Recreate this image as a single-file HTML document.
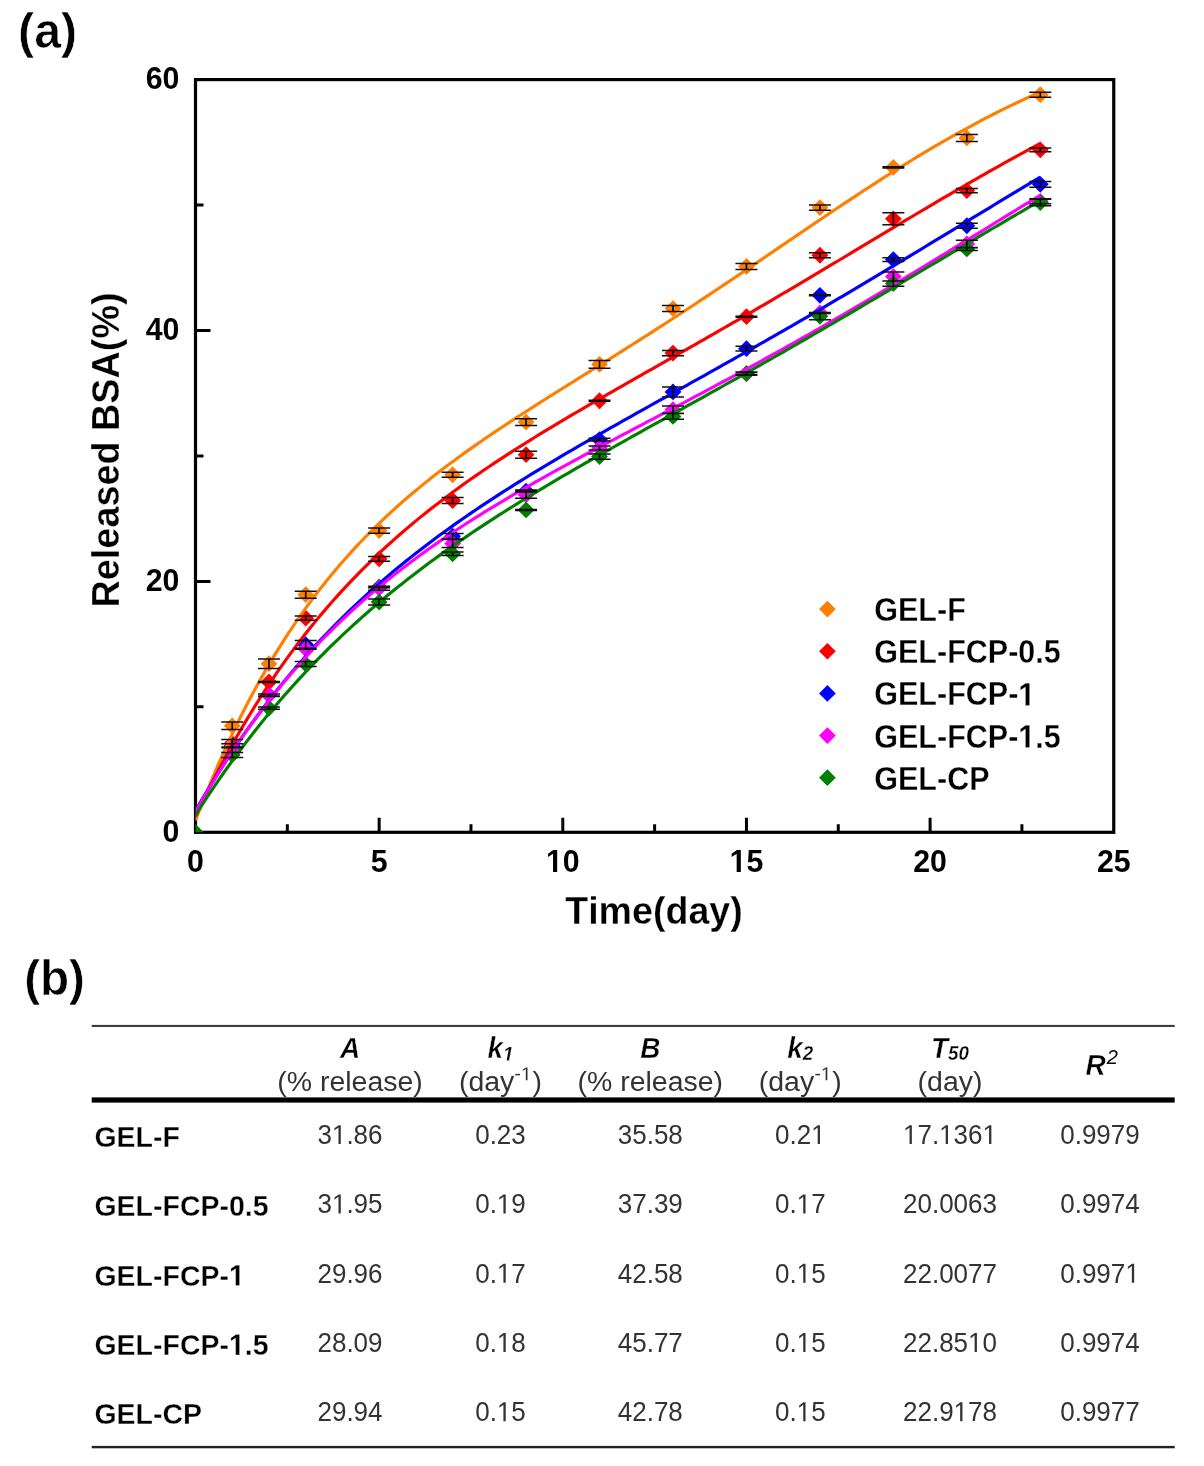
<!DOCTYPE html><html><head><meta charset="utf-8"><style>html,body{margin:0;padding:0;background:#fff;overflow:hidden;width:1204px;height:1466px;}svg{display:block;will-change:transform;}text{font-family:"Liberation Sans", sans-serif;}</style></head><body>
<svg width="1204" height="1466" viewBox="0 0 1204 1466">
<rect width="1204" height="1466" fill="#fff"/>
<g transform="translate(18.10 47.80) scale(1.0000 1.0300)"><text x="0.00 16.08 42.95" y="0.00" font-size="48.30" font-weight="bold" fill="#000" stroke="#fff" stroke-width="0.60">(a)</text></g>
<rect x="195.50" y="79.60" width="918.25" height="752.70" fill="none" stroke="#000" stroke-width="3.2"/>
<path fill="none" stroke="#000" stroke-width="3" d="M195.50 581.40H210.50M195.50 330.50H210.50M195.50 706.85H203.50M195.50 455.95H203.50M195.50 205.05H203.50M379.15 832.30V817.80M562.80 832.30V817.80M746.45 832.30V817.80M930.10 832.30V817.80M287.32 832.30V824.30M470.97 832.30V824.30M654.62 832.30V824.30M838.27 832.30V824.30M1021.92 832.30V824.30"/>
<defs><clipPath id="pc"><rect x="195.50" y="79.60" width="918.25" height="752.70"/></clipPath></defs>
<g clip-path="url(#pc)">
<path fill="#ff8000" d="M232.23 717.39L240.63 725.79L232.23 734.19L223.83 725.79ZM268.96 655.30L277.36 663.70L268.96 672.10L260.56 663.70ZM305.69 586.30L314.09 594.70L305.69 603.10L297.29 594.70ZM379.15 522.19L387.55 530.59L379.15 538.99L370.75 530.59ZM452.61 466.37L461.01 474.77L452.61 483.17L444.21 474.77ZM526.07 413.68L534.47 422.08L526.07 430.48L517.67 422.08ZM599.53 355.97L607.93 364.37L599.53 372.77L591.13 364.37ZM672.99 300.15L681.39 308.55L672.99 316.95L664.59 308.55ZM746.45 258.12L754.85 266.52L746.45 274.92L738.05 266.52ZM819.91 199.16L828.31 207.56L819.91 215.96L811.51 207.56ZM893.37 159.01L901.77 167.41L893.37 175.81L884.97 167.41ZM966.83 129.53L975.23 137.93L966.83 146.33L958.43 137.93ZM1040.29 86.25L1048.69 94.65L1040.29 103.05L1031.89 94.65Z"/>
<path fill="#ff0000" d="M232.23 734.96L240.63 743.36L232.23 751.76L223.83 743.36ZM268.96 673.61L277.36 682.01L268.96 690.41L260.56 682.01ZM305.69 609.76L314.09 618.16L305.69 626.56L297.29 618.16ZM379.15 550.42L387.55 558.82L379.15 567.22L370.75 558.82ZM452.61 492.08L461.01 500.48L452.61 508.88L444.21 500.48ZM526.07 446.30L534.47 454.70L526.07 463.10L517.67 454.70ZM599.53 392.35L607.93 400.75L599.53 409.15L591.13 400.75ZM672.99 344.68L681.39 353.08L672.99 361.48L664.59 353.08ZM746.45 308.30L754.85 316.70L746.45 325.10L738.05 316.70ZM819.91 246.83L828.31 255.23L819.91 263.63L811.51 255.23ZM893.37 210.45L901.77 218.85L893.37 227.25L884.97 218.85ZM966.83 182.22L975.23 190.62L966.83 199.02L958.43 190.62ZM1040.29 141.45L1048.69 149.85L1040.29 158.25L1031.89 149.85Z"/>
<path fill="#0000ff" d="M232.23 737.34L240.63 745.74L232.23 754.14L223.83 745.74ZM268.96 686.53L277.36 694.93L268.96 703.33L260.56 694.93ZM305.69 636.35L314.09 644.75L305.69 653.15L297.29 644.75ZM379.15 578.65L387.55 587.05L379.15 595.45L370.75 587.05ZM452.61 527.84L461.01 536.24L452.61 544.64L444.21 536.24ZM526.07 482.68L534.47 491.08L526.07 499.48L517.67 491.08ZM599.53 431.24L607.93 439.64L599.53 448.04L591.13 439.64ZM672.99 383.57L681.39 391.97L672.99 400.37L664.59 391.97ZM746.45 340.29L754.85 348.69L746.45 357.09L738.05 348.69ZM819.91 286.97L828.31 295.37L819.91 303.77L811.51 295.37ZM893.37 251.22L901.77 259.62L893.37 268.02L884.97 259.62ZM966.83 217.35L975.23 225.75L966.83 234.15L958.43 225.75ZM1040.29 175.95L1048.69 184.35L1040.29 192.75L1031.89 184.35Z"/>
<path fill="#ff00ff" d="M232.23 739.72L240.63 748.12L232.23 756.52L223.83 748.12ZM268.96 686.78L277.36 695.18L268.96 703.58L260.56 695.18ZM305.69 640.37L314.09 648.77L305.69 657.17L297.29 648.77ZM379.15 579.77L387.55 588.17L379.15 596.57L370.75 588.17ZM452.61 535.11L461.01 543.51L452.61 551.91L444.21 543.51ZM526.07 486.44L534.47 494.84L526.07 503.24L517.67 494.84ZM599.53 439.65L607.93 448.05L599.53 456.45L591.13 448.05ZM672.99 401.13L681.39 409.53L672.99 417.93L664.59 409.53ZM746.45 365.38L754.85 373.78L746.45 382.18L738.05 373.78ZM819.91 304.54L828.31 312.94L819.91 321.34L811.51 312.94ZM893.37 268.16L901.77 276.56L893.37 284.96L884.97 276.56ZM966.83 235.54L975.23 243.94L966.83 252.34L958.43 243.94ZM1040.29 192.89L1048.69 201.29L1040.29 209.69L1031.89 201.29Z"/>
<path fill="#008000" d="M195.50 823.90L203.90 832.30L195.50 840.70L187.10 832.30ZM232.23 746.50L240.63 754.90L232.23 763.30L223.83 754.90ZM268.96 699.70L277.36 708.10L268.96 716.50L260.56 708.10ZM305.69 655.67L314.09 664.07L305.69 672.47L297.29 664.07ZM379.15 593.70L387.55 602.10L379.15 610.50L370.75 602.10ZM452.61 545.40L461.01 553.80L452.61 562.20L444.21 553.80ZM526.07 501.49L534.47 509.89L526.07 518.29L517.67 509.89ZM599.53 448.18L607.93 456.58L599.53 464.98L591.13 456.58ZM672.99 408.03L681.39 416.43L672.99 424.83L664.59 416.43ZM746.45 365.00L754.85 373.40L746.45 381.80L738.05 373.40ZM819.91 307.92L828.31 316.32L819.91 324.72L811.51 316.32ZM893.37 275.18L901.77 283.58L893.37 291.98L884.97 283.58ZM966.83 240.56L975.23 248.96L966.83 257.36L958.43 248.96ZM1040.29 194.14L1048.69 202.54L1040.29 210.94L1031.89 202.54Z"/>
<path fill="none" stroke="#ff8000" stroke-width="3.15" stroke-linejoin="round" d="M195.50 820.42L200.09 808.55L204.68 797.01L209.27 785.78L213.87 774.86L218.46 764.24L223.05 753.90L227.64 743.85L232.23 734.06L236.82 724.54L241.41 715.27L246.00 706.25L250.59 697.46L255.19 688.91L259.78 680.58L264.37 672.47L268.96 664.57L273.55 656.88L278.14 649.38L282.73 642.07L287.32 634.95L291.92 628.00L296.51 621.23L301.10 614.63L305.69 608.19L310.28 601.91L314.87 595.78L319.46 589.80L324.05 583.95L328.65 578.25L333.24 572.68L337.83 567.23L342.42 561.91L347.01 556.71L351.60 551.63L356.19 546.65L360.78 541.79L365.38 537.02L369.97 532.36L374.56 527.79L379.15 523.31L383.74 518.92L388.33 514.62L392.92 510.40L397.51 506.26L402.11 502.19L406.70 498.20L411.29 494.27L415.88 490.42L420.47 486.62L425.06 482.89L429.65 479.22L434.25 475.60L438.84 472.04L443.43 468.52L448.02 465.06L452.61 461.64L457.20 458.27L461.79 454.93L466.38 451.64L470.97 448.38L475.57 445.16L480.16 441.97L484.75 438.81L489.34 435.68L493.93 432.58L498.52 429.51L503.11 426.45L507.70 423.42L512.30 420.41L516.89 417.42L521.48 414.45L526.07 411.49L530.66 408.55L535.25 405.62L539.84 402.70L544.43 399.79L549.03 396.89L553.62 394.00L558.21 391.11L562.80 388.23L567.39 385.35L571.98 382.48L576.57 379.61L581.16 376.74L585.76 373.87L590.35 371.00L594.94 368.13L599.53 365.25L604.12 362.38L608.71 359.50L613.30 356.61L617.89 353.72L622.49 350.83L627.08 347.93L631.67 345.02L636.26 342.11L640.85 339.18L645.44 336.25L650.03 333.32L654.62 330.37L659.22 327.42L663.81 324.46L668.40 321.48L672.99 318.50L677.58 315.51L682.17 312.52L686.76 309.51L691.36 306.49L695.95 303.47L700.54 300.43L705.13 297.39L709.72 294.34L714.31 291.28L718.90 288.22L723.49 285.15L728.08 282.07L732.68 278.98L737.27 275.89L741.86 272.79L746.45 269.68L751.04 266.58L755.63 263.46L760.22 260.35L764.81 257.23L769.41 254.11L774.00 250.98L778.59 247.86L783.18 244.73L787.77 241.61L792.36 238.49L796.95 235.36L801.54 232.25L806.14 229.13L810.73 226.02L815.32 222.91L819.91 219.81L824.50 216.72L829.09 213.63L833.68 210.55L838.27 207.48L842.87 204.42L847.46 201.37L852.05 198.33L856.64 195.31L861.23 192.29L865.82 189.30L870.41 186.31L875.00 183.34L879.60 180.39L884.19 177.45L888.78 174.54L893.37 171.64L897.96 168.76L902.55 165.90L907.14 163.05L911.73 160.24L916.33 157.44L920.92 154.66L925.51 151.91L930.10 149.18L934.69 146.48L939.28 143.80L943.87 141.15L948.46 138.52L953.06 135.92L957.65 133.34L962.24 130.80L966.83 128.28L971.42 125.79L976.01 123.32L980.60 120.89L985.19 118.48L989.79 116.10L994.38 113.76L998.97 111.44L1003.56 109.15L1008.15 106.89L1012.74 104.66L1017.33 102.47L1021.92 100.30L1026.52 98.16L1031.11 96.06L1035.70 93.98L1040.29 91.94"/>
<path fill="none" stroke="#ff0000" stroke-width="3.15" stroke-linejoin="round" d="M195.50 816.58L200.09 806.87L204.68 797.37L209.27 788.09L213.87 779.01L218.46 770.14L223.05 761.46L227.64 752.97L232.23 744.67L236.82 736.55L241.41 728.60L246.00 720.83L250.59 713.23L255.19 705.78L259.78 698.50L264.37 691.37L268.96 684.40L273.55 677.57L278.14 670.88L282.73 664.34L287.32 657.93L291.92 651.65L296.51 645.50L301.10 639.47L305.69 633.57L310.28 627.79L314.87 622.12L319.46 616.56L324.05 611.12L328.65 605.77L333.24 600.54L337.83 595.40L342.42 590.36L347.01 585.41L351.60 580.56L356.19 575.79L360.78 571.12L365.38 566.52L369.97 562.01L374.56 557.58L379.15 553.22L383.74 548.94L388.33 544.74L392.92 540.60L397.51 536.53L402.11 532.52L406.70 528.58L411.29 524.71L415.88 520.89L420.47 517.13L425.06 513.42L429.65 509.77L434.25 506.18L438.84 502.63L443.43 499.13L448.02 495.68L452.61 492.27L457.20 488.91L461.79 485.59L466.38 482.31L470.97 479.07L475.57 475.87L480.16 472.70L484.75 469.57L489.34 466.47L493.93 463.40L498.52 460.37L503.11 457.36L507.70 454.38L512.30 451.43L516.89 448.50L521.48 445.60L526.07 442.72L530.66 439.86L535.25 437.02L539.84 434.21L544.43 431.41L549.03 428.63L553.62 425.86L558.21 423.11L562.80 420.38L567.39 417.66L571.98 414.95L576.57 412.26L581.16 409.57L585.76 406.90L590.35 404.23L594.94 401.58L599.53 398.93L604.12 396.29L608.71 393.66L613.30 391.03L617.89 388.40L622.49 385.79L627.08 383.17L631.67 380.56L636.26 377.95L640.85 375.34L645.44 372.74L650.03 370.13L654.62 367.53L659.22 364.92L663.81 362.32L668.40 359.71L672.99 357.10L677.58 354.50L682.17 351.88L686.76 349.27L691.36 346.66L695.95 344.04L700.54 341.42L705.13 338.79L709.72 336.16L714.31 333.53L718.90 330.89L723.49 328.25L728.08 325.60L732.68 322.95L737.27 320.30L741.86 317.64L746.45 314.97L751.04 312.30L755.63 309.63L760.22 306.95L764.81 304.27L769.41 301.58L774.00 298.88L778.59 296.18L783.18 293.48L787.77 290.77L792.36 288.06L796.95 285.34L801.54 282.62L806.14 279.90L810.73 277.17L815.32 274.43L819.91 271.70L824.50 268.96L829.09 266.22L833.68 263.47L838.27 260.73L842.87 257.98L847.46 255.23L852.05 252.47L856.64 249.72L861.23 246.97L865.82 244.21L870.41 241.46L875.00 238.70L879.60 235.95L884.19 233.20L888.78 230.45L893.37 227.70L897.96 224.95L902.55 222.21L907.14 219.47L911.73 216.73L916.33 214.00L920.92 211.27L925.51 208.55L930.10 205.83L934.69 203.12L939.28 200.41L943.87 197.71L948.46 195.02L953.06 192.33L957.65 189.66L962.24 186.99L966.83 184.33L971.42 181.68L976.01 179.04L980.60 176.42L985.19 173.80L989.79 171.19L994.38 168.60L998.97 166.01L1003.56 163.44L1008.15 160.88L1012.74 158.34L1017.33 155.81L1021.92 153.29L1026.52 150.79L1031.11 148.30L1035.70 145.83L1040.29 143.38"/>
<path fill="none" stroke="#0000ff" stroke-width="3.15" stroke-linejoin="round" d="M195.50 810.70L200.09 802.80L204.68 795.04L209.27 787.44L213.87 779.97L218.46 772.65L223.05 765.46L227.64 758.41L232.23 751.48L236.82 744.69L241.41 738.02L246.00 731.47L250.59 725.04L255.19 718.73L259.78 712.53L264.37 706.44L268.96 700.46L273.55 694.58L278.14 688.81L282.73 683.15L287.32 677.58L291.92 672.10L296.51 666.72L301.10 661.43L305.69 656.24L310.28 651.12L314.87 646.10L319.46 641.16L324.05 636.30L328.65 631.51L333.24 626.81L337.83 622.18L342.42 617.62L347.01 613.14L351.60 608.72L356.19 604.37L360.78 600.09L365.38 595.87L369.97 591.72L374.56 587.63L379.15 583.59L383.74 579.61L388.33 575.69L392.92 571.83L397.51 568.02L402.11 564.25L406.70 560.54L411.29 556.88L415.88 553.27L420.47 549.70L425.06 546.17L429.65 542.69L434.25 539.25L438.84 535.85L443.43 532.50L448.02 529.18L452.61 525.89L457.20 522.64L461.79 519.43L466.38 516.25L470.97 513.10L475.57 509.99L480.16 506.90L484.75 503.84L489.34 500.82L493.93 497.81L498.52 494.84L503.11 491.89L507.70 488.96L512.30 486.06L516.89 483.18L521.48 480.32L526.07 477.48L530.66 474.66L535.25 471.86L539.84 469.08L544.43 466.31L549.03 463.56L553.62 460.83L558.21 458.11L562.80 455.40L567.39 452.71L571.98 450.03L576.57 447.36L581.16 444.71L585.76 442.06L590.35 439.42L594.94 436.79L599.53 434.17L604.12 431.56L608.71 428.96L613.30 426.36L617.89 423.77L622.49 421.18L627.08 418.60L631.67 416.03L636.26 413.45L640.85 410.88L645.44 408.32L650.03 405.75L654.62 403.19L659.22 400.63L663.81 398.07L668.40 395.51L672.99 392.95L677.58 390.39L682.17 387.83L686.76 385.27L691.36 382.71L695.95 380.15L700.54 377.59L705.13 375.02L709.72 372.45L714.31 369.88L718.90 367.30L723.49 364.72L728.08 362.14L732.68 359.56L737.27 356.97L741.86 354.37L746.45 351.78L751.04 349.17L755.63 346.57L760.22 343.95L764.81 341.34L769.41 338.71L774.00 336.09L778.59 333.46L783.18 330.82L787.77 328.17L792.36 325.53L796.95 322.87L801.54 320.21L806.14 317.55L810.73 314.88L815.32 312.20L819.91 309.52L824.50 306.83L829.09 304.14L833.68 301.44L838.27 298.73L842.87 296.02L847.46 293.31L852.05 290.59L856.64 287.87L861.23 285.14L865.82 282.40L870.41 279.66L875.00 276.92L879.60 274.17L884.19 271.42L888.78 268.67L893.37 265.91L897.96 263.14L902.55 260.38L907.14 257.61L911.73 254.84L916.33 252.06L920.92 249.28L925.51 246.50L930.10 243.72L934.69 240.94L939.28 238.16L943.87 235.37L948.46 232.58L953.06 229.80L957.65 227.01L962.24 224.23L966.83 221.44L971.42 218.65L976.01 215.87L980.60 213.09L985.19 210.30L989.79 207.53L994.38 204.75L998.97 201.97L1003.56 199.20L1008.15 196.44L1012.74 193.67L1017.33 190.91L1021.92 188.16L1026.52 185.41L1031.11 182.66L1035.70 179.92L1040.29 177.19"/>
<path fill="none" stroke="#ff00ff" stroke-width="3.15" stroke-linejoin="round" d="M195.50 811.88L200.09 803.80L204.68 795.89L209.27 788.15L213.87 780.56L218.46 773.14L223.05 765.86L227.64 758.74L232.23 751.76L236.82 744.92L241.41 738.22L246.00 731.65L250.59 725.22L255.19 718.92L259.78 712.74L264.37 706.68L268.96 700.74L273.55 694.92L278.14 689.21L282.73 683.62L287.32 678.13L291.92 672.74L296.51 667.46L301.10 662.27L305.69 657.19L310.28 652.19L314.87 647.29L319.46 642.48L324.05 637.75L328.65 633.11L333.24 628.56L337.83 624.08L342.42 619.68L347.01 615.36L351.60 611.11L356.19 606.93L360.78 602.82L365.38 598.78L369.97 594.80L374.56 590.89L379.15 587.05L383.74 583.26L388.33 579.53L392.92 575.86L397.51 572.24L402.11 568.67L406.70 565.16L411.29 561.70L415.88 558.29L420.47 554.92L425.06 551.60L429.65 548.32L434.25 545.09L438.84 541.90L443.43 538.75L448.02 535.63L452.61 532.56L457.20 529.52L461.79 526.51L466.38 523.54L470.97 520.60L475.57 517.69L480.16 514.81L484.75 511.96L489.34 509.14L493.93 506.34L498.52 503.57L503.11 500.83L507.70 498.10L512.30 495.40L516.89 492.72L521.48 490.06L526.07 487.42L530.66 484.80L535.25 482.20L539.84 479.61L544.43 477.04L549.03 474.48L553.62 471.94L558.21 469.41L562.80 466.89L567.39 464.38L571.98 461.89L576.57 459.40L581.16 456.93L585.76 454.46L590.35 452.00L594.94 449.55L599.53 447.10L604.12 444.66L608.71 442.23L613.30 439.80L617.89 437.37L622.49 434.95L627.08 432.53L631.67 430.11L636.26 427.70L640.85 425.28L645.44 422.87L650.03 420.45L654.62 418.04L659.22 415.62L663.81 413.21L668.40 410.79L672.99 408.37L677.58 405.95L682.17 403.52L686.76 401.09L691.36 398.66L695.95 396.22L700.54 393.78L705.13 391.34L709.72 388.89L714.31 386.43L718.90 383.97L723.49 381.50L728.08 379.03L732.68 376.55L737.27 374.06L741.86 371.57L746.45 369.07L751.04 366.56L755.63 364.04L760.22 361.52L764.81 358.99L769.41 356.45L774.00 353.91L778.59 351.36L783.18 348.79L787.77 346.22L792.36 343.65L796.95 341.06L801.54 338.47L806.14 335.86L810.73 333.25L815.32 330.63L819.91 328.00L824.50 325.37L829.09 322.72L833.68 320.07L838.27 317.41L842.87 314.74L847.46 312.06L852.05 309.38L856.64 306.69L861.23 303.99L865.82 301.28L870.41 298.56L875.00 295.84L879.60 293.11L884.19 290.38L888.78 287.64L893.37 284.89L897.96 282.13L902.55 279.37L907.14 276.60L911.73 273.83L916.33 271.06L920.92 268.27L925.51 265.49L930.10 262.70L934.69 259.90L939.28 257.10L943.87 254.30L948.46 251.49L953.06 248.68L957.65 245.87L962.24 243.06L966.83 240.24L971.42 237.43L976.01 234.61L980.60 231.79L985.19 228.97L989.79 226.15L994.38 223.33L998.97 220.51L1003.56 217.70L1008.15 214.88L1012.74 212.06L1017.33 209.25L1021.92 206.44L1026.52 203.64L1031.11 200.83L1035.70 198.03L1040.29 195.24"/>
<path fill="none" stroke="#008000" stroke-width="3.15" stroke-linejoin="round" d="M195.50 815.07L200.09 807.88L204.68 800.82L209.27 793.87L213.87 787.05L218.46 780.34L223.05 773.74L227.64 767.26L232.23 760.88L236.82 754.62L241.41 748.45L246.00 742.39L250.59 736.43L255.19 730.57L259.78 724.80L264.37 719.12L268.96 713.54L273.55 708.05L278.14 702.65L282.73 697.33L287.32 692.09L291.92 686.94L296.51 681.87L301.10 676.88L305.69 671.96L310.28 667.12L314.87 662.35L319.46 657.66L324.05 653.03L328.65 648.47L333.24 643.98L337.83 639.56L342.42 635.20L347.01 630.90L351.60 626.66L356.19 622.48L360.78 618.36L365.38 614.30L369.97 610.29L374.56 606.33L379.15 602.43L383.74 598.58L388.33 594.78L392.92 591.02L397.51 587.32L402.11 583.66L406.70 580.04L411.29 576.47L415.88 572.94L420.47 569.45L425.06 566.01L429.65 562.60L434.25 559.23L438.84 555.89L443.43 552.59L448.02 549.33L452.61 546.10L457.20 542.90L461.79 539.73L466.38 536.60L470.97 533.49L475.57 530.41L480.16 527.36L484.75 524.34L489.34 521.34L493.93 518.37L498.52 515.42L503.11 512.50L507.70 509.60L512.30 506.72L516.89 503.85L521.48 501.01L526.07 498.19L530.66 495.39L535.25 492.60L539.84 489.83L544.43 487.08L549.03 484.34L553.62 481.62L558.21 478.91L562.80 476.22L567.39 473.53L571.98 470.86L576.57 468.20L581.16 465.55L585.76 462.91L590.35 460.28L594.94 457.66L599.53 455.04L604.12 452.44L608.71 449.84L613.30 447.25L617.89 444.66L622.49 442.08L627.08 439.50L631.67 436.93L636.26 434.36L640.85 431.80L645.44 429.23L650.03 426.68L654.62 424.12L659.22 421.56L663.81 419.01L668.40 416.46L672.99 413.90L677.58 411.35L682.17 408.80L686.76 406.24L691.36 403.69L695.95 401.13L700.54 398.57L705.13 396.02L709.72 393.45L714.31 390.89L718.90 388.32L723.49 385.75L728.08 383.18L732.68 380.61L737.27 378.03L741.86 375.44L746.45 372.86L751.04 370.27L755.63 367.67L760.22 365.07L764.81 362.47L769.41 359.86L774.00 357.25L778.59 354.63L783.18 352.01L787.77 349.38L792.36 346.74L796.95 344.11L801.54 341.46L806.14 338.82L810.73 336.17L815.32 333.51L819.91 330.85L824.50 328.18L829.09 325.51L833.68 322.83L838.27 320.15L842.87 317.46L847.46 314.77L852.05 312.08L856.64 309.38L861.23 306.68L865.82 303.97L870.41 301.26L875.00 298.54L879.60 295.83L884.19 293.11L888.78 290.38L893.37 287.66L897.96 284.93L902.55 282.19L907.14 279.46L911.73 276.73L916.33 273.99L920.92 271.25L925.51 268.51L930.10 265.77L934.69 263.03L939.28 260.29L943.87 257.55L948.46 254.81L953.06 252.07L957.65 249.33L962.24 246.59L966.83 243.86L971.42 241.13L976.01 238.40L980.60 235.67L985.19 232.94L989.79 230.22L994.38 227.50L998.97 224.79L1003.56 222.08L1008.15 219.38L1012.74 216.68L1017.33 213.99L1021.92 211.30L1026.52 208.62L1031.11 205.95L1035.70 203.28L1040.29 200.62"/>
<path fill="none" stroke="#111" stroke-width="1.5" d="M221.23 722.09L243.23 722.09M221.23 729.49L243.23 729.49M257.96 659.00L279.96 659.00M257.96 668.40L279.96 668.40M294.69 591.20L316.69 591.20M294.69 598.20L316.69 598.20M368.15 527.99L390.15 527.99M368.15 533.19L390.15 533.19M441.61 472.17L463.61 472.17M441.61 477.37L463.61 477.37M515.07 418.78L537.07 418.78M515.07 425.38L537.07 425.38M588.53 360.47L610.53 360.47M588.53 368.27L610.53 368.27M661.99 305.55L683.99 305.55M661.99 311.55L683.99 311.55M735.45 263.42L757.45 263.42M735.45 269.62L757.45 269.62M808.91 204.96L830.91 204.96M808.91 210.16L830.91 210.16M882.37 166.71L904.37 166.71M882.37 168.11L904.37 168.11M955.83 134.43L977.83 134.43M955.83 141.43L977.83 141.43M1029.29 92.15L1051.29 92.15M1029.29 97.15L1051.29 97.15M221.23 739.61L243.23 739.61M221.23 747.11L243.23 747.11M257.96 681.41L279.96 681.41M257.96 682.61L279.96 682.61M294.69 615.96L316.69 615.96M294.69 620.36L316.69 620.36M368.15 556.42L390.15 556.42M368.15 561.22L390.15 561.22M441.61 497.38L463.61 497.38M441.61 503.58L463.61 503.58M515.07 451.20L537.07 451.20M515.07 458.20L537.07 458.20M588.53 400.25L610.53 400.25M588.53 401.25L610.53 401.25M661.99 350.38L683.99 350.38M661.99 355.78L683.99 355.78M735.45 316.20L757.45 316.20M735.45 317.20L757.45 317.20M808.91 252.83L830.91 252.83M808.91 257.63L830.91 257.63M882.37 212.85L904.37 212.85M882.37 224.85L904.37 224.85M955.83 188.42L977.83 188.42M955.83 192.82L977.83 192.82M1029.29 148.05L1051.29 148.05M1029.29 151.65L1051.29 151.65M221.23 743.74L243.23 743.74M221.23 747.74L243.23 747.74M257.96 693.93L279.96 693.93M257.96 695.93L279.96 695.93M294.69 640.45L316.69 640.45M294.69 649.05L316.69 649.05M368.15 586.45L390.15 586.45M368.15 587.65L390.15 587.65M441.61 533.44L463.61 533.44M441.61 539.04L463.61 539.04M515.07 490.08L537.07 490.08M515.07 492.08L537.07 492.08M588.53 438.24L610.53 438.24M588.53 441.04L610.53 441.04M661.99 386.97L683.99 386.97M661.99 396.97L683.99 396.97M735.45 346.29L757.45 346.29M735.45 351.09L757.45 351.09M808.91 294.87L830.91 294.87M808.91 295.87L830.91 295.87M882.37 257.72L904.37 257.72M882.37 261.52L904.37 261.52M955.83 223.15L977.83 223.15M955.83 228.35L977.83 228.35M1029.29 181.45L1051.29 181.45M1029.29 187.25L1051.29 187.25M221.23 743.82L243.23 743.82M221.23 752.42L243.23 752.42M257.96 693.88L279.96 693.88M257.96 696.48L279.96 696.48M294.69 648.27L316.69 648.27M294.69 649.27L316.69 649.27M368.15 586.17L390.15 586.17M368.15 590.17L390.15 590.17M441.61 539.61L463.61 539.61M441.61 547.41L463.61 547.41M515.07 491.34L537.07 491.34M515.07 498.34L537.07 498.34M588.53 446.05L610.53 446.05M588.53 450.05L610.53 450.05M661.99 405.93L683.99 405.93M661.99 413.13L683.99 413.13M735.45 372.38L757.45 372.38M735.45 375.18L757.45 375.18M808.91 312.44L830.91 312.44M808.91 313.44L830.91 313.44M882.37 272.06L904.37 272.06M882.37 281.06L904.37 281.06M955.83 240.24L977.83 240.24M955.83 247.64L977.83 247.64M1029.29 198.79L1051.29 198.79M1029.29 203.79L1051.29 203.79M221.23 752.40L243.23 752.40M221.23 757.40L243.23 757.40M257.96 707.00L279.96 707.00M257.96 709.20L279.96 709.20M294.69 661.57L316.69 661.57M294.69 666.57L316.69 666.57M368.15 599.10L390.15 599.10M368.15 605.10L390.15 605.10M441.61 552.10L463.61 552.10M441.61 555.50L463.61 555.50M515.07 509.39L537.07 509.39M515.07 510.39L537.07 510.39M588.53 453.88L610.53 453.88M588.53 459.28L610.53 459.28M661.99 413.53L683.99 413.53M661.99 419.33L683.99 419.33M735.45 372.00L757.45 372.00M735.45 374.80L757.45 374.80M808.91 312.92L830.91 312.92M808.91 319.72L830.91 319.72M882.37 280.88L904.37 280.88M882.37 286.28L904.37 286.28M955.83 247.46L977.83 247.46M955.83 250.46L977.83 250.46M1029.29 199.24L1051.29 199.24M1029.29 205.84L1051.29 205.84"/>
<path fill="none" stroke="#000" stroke-width="1.6" d="M232.23 722.09L232.23 729.49M268.96 659.00L268.96 668.40M305.69 591.20L305.69 598.20M379.15 527.99L379.15 533.19M452.61 472.17L452.61 477.37M526.07 418.78L526.07 425.38M599.53 360.47L599.53 368.27M672.99 305.55L672.99 311.55M746.45 263.42L746.45 269.62M819.91 204.96L819.91 210.16M966.83 134.43L966.83 141.43M1040.29 92.15L1040.29 97.15M232.23 739.61L232.23 747.11M305.69 615.96L305.69 620.36M379.15 556.42L379.15 561.22M452.61 497.38L452.61 503.58M526.07 451.20L526.07 458.20M672.99 350.38L672.99 355.78M819.91 252.83L819.91 257.63M893.37 212.85L893.37 224.85M966.83 188.42L966.83 192.82M1040.29 148.05L1040.29 151.65M232.23 743.74L232.23 747.74M268.96 693.93L268.96 695.93M305.69 640.45L305.69 649.05M452.61 533.44L452.61 539.04M526.07 490.08L526.07 492.08M599.53 438.24L599.53 441.04M672.99 386.97L672.99 396.97M746.45 346.29L746.45 351.09M893.37 257.72L893.37 261.52M966.83 223.15L966.83 228.35M1040.29 181.45L1040.29 187.25M232.23 743.82L232.23 752.42M268.96 693.88L268.96 696.48M379.15 586.17L379.15 590.17M452.61 539.61L452.61 547.41M526.07 491.34L526.07 498.34M599.53 446.05L599.53 450.05M672.99 405.93L672.99 413.13M746.45 372.38L746.45 375.18M893.37 272.06L893.37 281.06M966.83 240.24L966.83 247.64M1040.29 198.79L1040.29 203.79M232.23 752.40L232.23 757.40M268.96 707.00L268.96 709.20M305.69 661.57L305.69 666.57M379.15 599.10L379.15 605.10M452.61 552.10L452.61 555.50M599.53 453.88L599.53 459.28M672.99 413.53L672.99 419.33M746.45 372.00L746.45 374.80M819.91 312.92L819.91 319.72M893.37 280.88L893.37 286.28M966.83 247.46L966.83 250.46M1040.29 199.24L1040.29 205.84"/>
</g>
<g transform="translate(162.55 841.90) scale(1.0000 1.0450)"><text x="0.00" y="0.00" font-size="30.30" font-weight="bold" fill="#000">0</text></g>
<g transform="translate(145.70 591.00) scale(1.0000 1.0450)"><text x="0.00 16.85" y="0.00" font-size="30.30" font-weight="bold" fill="#000">20</text></g>
<g transform="translate(145.70 340.10) scale(1.0000 1.0450)"><text x="0.00 16.85" y="0.00" font-size="30.30" font-weight="bold" fill="#000">40</text></g>
<g transform="translate(145.70 89.20) scale(1.0000 1.0450)"><text x="0.00 16.85" y="0.00" font-size="30.30" font-weight="bold" fill="#000">60</text></g>
<g transform="translate(187.07 871.90) scale(1.0000 1.0450)"><text x="0.00" y="0.00" font-size="30.30" font-weight="bold" fill="#000">0</text></g>
<g transform="translate(370.72 871.90) scale(1.0000 1.0450)"><text x="0.00" y="0.00" font-size="30.30" font-weight="bold" fill="#000">5</text></g>
<g transform="translate(545.95 871.90) scale(1.0000 1.0450)"><text x="0.00 16.85" y="0.00" font-size="30.30" font-weight="bold" fill="#000"> 0</text><path fill="#000" transform="translate(0.00 0.00) scale(0.01479 -0.01479)" d="M478 0L478 1170L140 959L140 1180L493 1409L759 1409L759 0Z"/></g>
<g transform="translate(729.60 871.90) scale(1.0000 1.0450)"><text x="0.00 16.85" y="0.00" font-size="30.30" font-weight="bold" fill="#000"> 5</text><path fill="#000" transform="translate(0.00 0.00) scale(0.01479 -0.01479)" d="M478 0L478 1170L140 959L140 1180L493 1409L759 1409L759 0Z"/></g>
<g transform="translate(913.25 871.90) scale(1.0000 1.0450)"><text x="0.00 16.85" y="0.00" font-size="30.30" font-weight="bold" fill="#000">20</text></g>
<g transform="translate(1096.90 871.90) scale(1.0000 1.0450)"><text x="0.00 16.85" y="0.00" font-size="30.30" font-weight="bold" fill="#000">25</text></g>
<g transform="translate(565.20 923.50) scale(1.0000 1.0400)"><text x="0.00 22.97 33.41 66.85 87.76 100.28 123.25 144.16 165.07" y="0.00" font-size="37.60" font-weight="bold" fill="#000" stroke="#fff" stroke-width="0.30">Time(day)</text></g>
<g transform="translate(118.2 449.9) rotate(-90)"><g transform="translate(-157.55 0.30) scale(1.0000 1.0300)"><text x="0.00 27.30 48.32 58.82 79.85 100.87 121.89 142.91 166.00 176.50 203.80 229.01 256.31 268.90 302.51" y="0.00" font-size="37.80" font-weight="bold" fill="#000" stroke="#fff" stroke-width="0.30">Released BSA(%)</text></g></g>
<path fill="#ff8000" d="M827.40 600.75L835.75 609.10L827.40 617.45L819.05 609.10Z"/>
<g transform="translate(874.30 621.10) scale(1.0000 1.0600)"><text x="0.00 23.72 44.07 62.70 72.85" y="0.00" font-size="30.50" font-weight="bold" fill="#000" stroke="#fff" stroke-width="0.30">GEL-F</text></g>
<path fill="#ff0000" d="M827.40 642.90L835.75 651.25L827.40 659.60L819.05 651.25Z"/>
<g transform="translate(874.30 663.25) scale(1.0000 1.0600)"><text x="0.00 23.72 44.07 62.70 72.85 91.49 113.51 133.85 144.01 160.97 169.45" y="0.00" font-size="30.50" font-weight="bold" fill="#000" stroke="#fff" stroke-width="0.30">GEL-FCP-0.5</text></g>
<path fill="#0000ff" d="M827.40 685.05L835.75 693.40L827.40 701.75L819.05 693.40Z"/>
<g transform="translate(874.30 705.40) scale(1.0000 1.0600)"><text x="0.00 23.72 44.07 62.70 72.85 91.49 113.51 133.85 144.01" y="0.00" font-size="30.50" font-weight="bold" fill="#000" stroke="#fff" stroke-width="0.30">GEL-FCP- </text><path fill="#000" stroke="#fff" stroke-width="20.14" transform="translate(144.01 0.00) scale(0.01489 -0.01489)" d="M478 0L478 1170L140 959L140 1180L493 1409L759 1409L759 0Z"/></g>
<path fill="#ff00ff" d="M827.40 727.20L835.75 735.55L827.40 743.90L819.05 735.55Z"/>
<g transform="translate(874.30 747.55) scale(1.0000 1.0600)"><text x="0.00 23.72 44.07 62.70 72.85 91.49 113.51 133.85 144.01 160.97 169.45" y="0.00" font-size="30.50" font-weight="bold" fill="#000" stroke="#fff" stroke-width="0.30">GEL-FCP- .5</text><path fill="#000" stroke="#fff" stroke-width="20.14" transform="translate(144.01 0.00) scale(0.01489 -0.01489)" d="M478 0L478 1170L140 959L140 1180L493 1409L759 1409L759 0Z"/></g>
<path fill="#008000" d="M827.40 769.35L835.75 777.70L827.40 786.05L819.05 777.70Z"/>
<g transform="translate(874.30 789.70) scale(1.0000 1.0600)"><text x="0.00 23.72 44.07 62.70 72.85 94.88" y="0.00" font-size="30.50" font-weight="bold" fill="#000" stroke="#fff" stroke-width="0.30">GEL-CP</text></g>
<g transform="translate(24.20 994.60) scale(1.0000 1.0300)"><text x="0.00 15.85 44.93" y="0.00" font-size="47.60" font-weight="bold" fill="#000" stroke="#fff" stroke-width="0.60">(b)</text></g>
<g transform="translate(0 1058.00) scale(1 1.040)"><text x="339.89" y="0.00" font-size="28.00" font-weight="bold" font-style="italic" fill="#000" stroke="#fff" stroke-width="0.40">A</text></g>
<g transform="translate(0 1058.00) scale(1 1.040)"><text x="487.49" y="0.00" font-size="28.00" font-weight="bold" font-style="italic" fill="#000" stroke="#fff" stroke-width="0.40">k</text><text x="503.06" y="2.30" font-size="18.80" font-weight="bold" font-style="italic" fill="#000" stroke="#fff" stroke-width="0.28"> </text><path fill="#000" stroke="#fff" stroke-width="30.50" transform="translate(503.06 2.30) scale(0.00918 -0.00918)" d="M380 0L604 1152L223 938L270 1180L666 1409L936 1409L661 0Z"/></g>
<g transform="translate(0 1058.00) scale(1 1.040)"><text x="640.19" y="0.00" font-size="28.00" font-weight="bold" font-style="italic" fill="#000" stroke="#fff" stroke-width="0.40">B</text></g>
<g transform="translate(0 1058.00) scale(1 1.040)"><text x="787.29" y="0.00" font-size="28.00" font-weight="bold" font-style="italic" fill="#000" stroke="#fff" stroke-width="0.40">k</text><text x="802.86" y="2.30" font-size="18.80" font-weight="bold" font-style="italic" fill="#000" stroke="#fff" stroke-width="0.28">2</text></g>
<g transform="translate(0 1058.00) scale(1 1.040)"><text x="930.99" y="0.00" font-size="28.00" font-weight="bold" font-style="italic" fill="#000" stroke="#fff" stroke-width="0.40">T</text><text x="948.10 958.55" y="2.30" font-size="18.80" font-weight="bold" font-style="italic" fill="#000" stroke="#fff" stroke-width="0.28">50</text></g>
<g transform="translate(0 1074.6) scale(1 1.05)"><text x="1085.63" y="0.00" font-size="28.00" font-weight="bold" font-style="italic" fill="#000" stroke="#fff" stroke-width="0.40">R</text></g>
<text x="1106.75" y="1063.80" font-size="20.00" font-style="italic" fill="#000">2</text>
<g transform="translate(277.24 1091.20) scale(1.0350 1.0000)"><text x="0.00 9.16 33.61 41.25 50.41 65.70 71.81 87.11 102.40 116.15 131.44" y="0.00" font-size="27.50" fill="#333">(% release)</text></g>
<g transform="translate(577.54 1091.20) scale(1.0350 1.0000)"><text x="0.00 9.16 33.61 41.25 50.41 65.70 71.81 87.11 102.40 116.15 131.44" y="0.00" font-size="27.50" fill="#333">(% release)</text></g>
<g transform="translate(500.50 1091.20) scale(1.035 1)"><text x="-40.15 -30.99 -15.70 -0.41" y="0.00" font-size="27.50" fill="#333">(day</text><text x="13.64 19.81" y="-11.00" font-size="18.50" fill="#333">- </text><path fill="#333" transform="translate(19.81 -11.00) scale(0.00903 -0.00903)" d="M515 0L515 1237L197 1010L197 1180L530 1409L696 1409L696 0Z"/><text x="30.99" y="0.00" font-size="27.50" fill="#333">)</text></g>
<g transform="translate(800.30 1091.20) scale(1.035 1)"><text x="-40.15 -30.99 -15.70 -0.41" y="0.00" font-size="27.50" fill="#333">(day</text><text x="13.64 19.81" y="-11.00" font-size="18.50" fill="#333">- </text><path fill="#333" transform="translate(19.81 -11.00) scale(0.00903 -0.00903)" d="M515 0L515 1237L197 1010L197 1180L530 1409L696 1409L696 0Z"/><text x="30.99" y="0.00" font-size="27.50" fill="#333">)</text></g>
<g transform="translate(917.58 1091.20) scale(1.0350 1.0000)"><text x="0.00 9.16 24.45 39.75 53.50" y="0.00" font-size="27.50" fill="#333">(day)</text></g>
<rect x="91.7" y="1024.9" width="1083" height="2.1" fill="#3c3c3c"/>
<rect x="91.7" y="1097.4" width="1083" height="5.2" fill="#000"/>
<rect x="91.7" y="1445.9" width="1083" height="2.4" fill="#222"/>
<g transform="translate(94.40 1147.00) scale(1.0000 1.0350)"><text x="0.00 22.17 41.18 58.59 68.08" y="0.00" font-size="28.50" font-weight="bold" fill="#000" stroke="#fff" stroke-width="0.30">GEL-F</text></g>
<g transform="translate(317.47 1144.10) scale(1.0000 1.0600)"><text x="0.00 14.46 28.92 36.14 50.60" y="0.00" font-size="26.00" fill="#333">3 .86</text><path fill="#333" transform="translate(14.46 0.00) scale(0.01270 -0.01270)" d="M515 0L515 1237L197 1010L197 1180L530 1409L696 1409L696 0Z"/></g>
<g transform="translate(475.20 1144.10) scale(1.0000 1.0600)"><text x="0.00 14.46 21.68 36.14" y="0.00" font-size="26.00" fill="#333">0.23</text></g>
<g transform="translate(617.77 1144.10) scale(1.0000 1.0600)"><text x="0.00 14.46 28.92 36.14 50.60" y="0.00" font-size="26.00" fill="#333">35.58</text></g>
<g transform="translate(775.00 1144.10) scale(1.0000 1.0600)"><text x="0.00 14.46 21.68 36.14" y="0.00" font-size="26.00" fill="#333">0.2 </text><path fill="#333" transform="translate(36.14 0.00) scale(0.01270 -0.01270)" d="M515 0L515 1237L197 1010L197 1180L530 1409L696 1409L696 0Z"/></g>
<g transform="translate(903.01 1144.10) scale(1.0000 1.0600)"><text x="0.00 14.46 28.92 36.14 50.60 65.06 79.52" y="0.00" font-size="26.00" fill="#333"> 7. 36 </text><path fill="#333" transform="translate(0.00 0.00) scale(0.01270 -0.01270)" d="M515 0L515 1237L197 1010L197 1180L530 1409L696 1409L696 0Z"/><path fill="#333" transform="translate(36.14 0.00) scale(0.01270 -0.01270)" d="M515 0L515 1237L197 1010L197 1180L530 1409L696 1409L696 0Z"/><path fill="#333" transform="translate(79.52 0.00) scale(0.01270 -0.01270)" d="M515 0L515 1237L197 1010L197 1180L530 1409L696 1409L696 0Z"/></g>
<g transform="translate(1060.24 1144.10) scale(1.0000 1.0600)"><text x="0.00 14.46 21.68 36.14 50.60 65.06" y="0.00" font-size="26.00" fill="#333">0.9979</text></g>
<g transform="translate(94.40 1216.30) scale(1.0000 1.0350)"><text x="0.00 22.17 41.18 58.59 68.08 85.49 106.07 125.08 134.57 150.42 158.34" y="0.00" font-size="28.50" font-weight="bold" fill="#000" stroke="#fff" stroke-width="0.30">GEL-FCP-0.5</text></g>
<g transform="translate(317.47 1213.40) scale(1.0000 1.0600)"><text x="0.00 14.46 28.92 36.14 50.60" y="0.00" font-size="26.00" fill="#333">3 .95</text><path fill="#333" transform="translate(14.46 0.00) scale(0.01270 -0.01270)" d="M515 0L515 1237L197 1010L197 1180L530 1409L696 1409L696 0Z"/></g>
<g transform="translate(475.20 1213.40) scale(1.0000 1.0600)"><text x="0.00 14.46 21.68 36.14" y="0.00" font-size="26.00" fill="#333">0. 9</text><path fill="#333" transform="translate(21.68 0.00) scale(0.01270 -0.01270)" d="M515 0L515 1237L197 1010L197 1180L530 1409L696 1409L696 0Z"/></g>
<g transform="translate(617.77 1213.40) scale(1.0000 1.0600)"><text x="0.00 14.46 28.92 36.14 50.60" y="0.00" font-size="26.00" fill="#333">37.39</text></g>
<g transform="translate(775.00 1213.40) scale(1.0000 1.0600)"><text x="0.00 14.46 21.68 36.14" y="0.00" font-size="26.00" fill="#333">0. 7</text><path fill="#333" transform="translate(21.68 0.00) scale(0.01270 -0.01270)" d="M515 0L515 1237L197 1010L197 1180L530 1409L696 1409L696 0Z"/></g>
<g transform="translate(903.01 1213.40) scale(1.0000 1.0600)"><text x="0.00 14.46 28.92 36.14 50.60 65.06 79.52" y="0.00" font-size="26.00" fill="#333">20.0063</text></g>
<g transform="translate(1060.24 1213.40) scale(1.0000 1.0600)"><text x="0.00 14.46 21.68 36.14 50.60 65.06" y="0.00" font-size="26.00" fill="#333">0.9974</text></g>
<g transform="translate(94.40 1285.60) scale(1.0000 1.0350)"><text x="0.00 22.17 41.18 58.59 68.08 85.49 106.07 125.08 134.57" y="0.00" font-size="28.50" font-weight="bold" fill="#000" stroke="#fff" stroke-width="0.30">GEL-FCP- </text><path fill="#000" stroke="#fff" stroke-width="21.56" transform="translate(134.57 0.00) scale(0.01392 -0.01392)" d="M478 0L478 1170L140 959L140 1180L493 1409L759 1409L759 0Z"/></g>
<g transform="translate(317.47 1282.70) scale(1.0000 1.0600)"><text x="0.00 14.46 28.92 36.14 50.60" y="0.00" font-size="26.00" fill="#333">29.96</text></g>
<g transform="translate(475.20 1282.70) scale(1.0000 1.0600)"><text x="0.00 14.46 21.68 36.14" y="0.00" font-size="26.00" fill="#333">0. 7</text><path fill="#333" transform="translate(21.68 0.00) scale(0.01270 -0.01270)" d="M515 0L515 1237L197 1010L197 1180L530 1409L696 1409L696 0Z"/></g>
<g transform="translate(617.77 1282.70) scale(1.0000 1.0600)"><text x="0.00 14.46 28.92 36.14 50.60" y="0.00" font-size="26.00" fill="#333">42.58</text></g>
<g transform="translate(775.00 1282.70) scale(1.0000 1.0600)"><text x="0.00 14.46 21.68 36.14" y="0.00" font-size="26.00" fill="#333">0. 5</text><path fill="#333" transform="translate(21.68 0.00) scale(0.01270 -0.01270)" d="M515 0L515 1237L197 1010L197 1180L530 1409L696 1409L696 0Z"/></g>
<g transform="translate(903.01 1282.70) scale(1.0000 1.0600)"><text x="0.00 14.46 28.92 36.14 50.60 65.06 79.52" y="0.00" font-size="26.00" fill="#333">22.0077</text></g>
<g transform="translate(1060.24 1282.70) scale(1.0000 1.0600)"><text x="0.00 14.46 21.68 36.14 50.60 65.06" y="0.00" font-size="26.00" fill="#333">0.997 </text><path fill="#333" transform="translate(65.06 0.00) scale(0.01270 -0.01270)" d="M515 0L515 1237L197 1010L197 1180L530 1409L696 1409L696 0Z"/></g>
<g transform="translate(94.40 1354.90) scale(1.0000 1.0350)"><text x="0.00 22.17 41.18 58.59 68.08 85.49 106.07 125.08 134.57 150.42 158.34" y="0.00" font-size="28.50" font-weight="bold" fill="#000" stroke="#fff" stroke-width="0.30">GEL-FCP- .5</text><path fill="#000" stroke="#fff" stroke-width="21.56" transform="translate(134.57 0.00) scale(0.01392 -0.01392)" d="M478 0L478 1170L140 959L140 1180L493 1409L759 1409L759 0Z"/></g>
<g transform="translate(317.47 1352.00) scale(1.0000 1.0600)"><text x="0.00 14.46 28.92 36.14 50.60" y="0.00" font-size="26.00" fill="#333">28.09</text></g>
<g transform="translate(475.20 1352.00) scale(1.0000 1.0600)"><text x="0.00 14.46 21.68 36.14" y="0.00" font-size="26.00" fill="#333">0. 8</text><path fill="#333" transform="translate(21.68 0.00) scale(0.01270 -0.01270)" d="M515 0L515 1237L197 1010L197 1180L530 1409L696 1409L696 0Z"/></g>
<g transform="translate(617.77 1352.00) scale(1.0000 1.0600)"><text x="0.00 14.46 28.92 36.14 50.60" y="0.00" font-size="26.00" fill="#333">45.77</text></g>
<g transform="translate(775.00 1352.00) scale(1.0000 1.0600)"><text x="0.00 14.46 21.68 36.14" y="0.00" font-size="26.00" fill="#333">0. 5</text><path fill="#333" transform="translate(21.68 0.00) scale(0.01270 -0.01270)" d="M515 0L515 1237L197 1010L197 1180L530 1409L696 1409L696 0Z"/></g>
<g transform="translate(903.01 1352.00) scale(1.0000 1.0600)"><text x="0.00 14.46 28.92 36.14 50.60 65.06 79.52" y="0.00" font-size="26.00" fill="#333">22.85 0</text><path fill="#333" transform="translate(65.06 0.00) scale(0.01270 -0.01270)" d="M515 0L515 1237L197 1010L197 1180L530 1409L696 1409L696 0Z"/></g>
<g transform="translate(1060.24 1352.00) scale(1.0000 1.0600)"><text x="0.00 14.46 21.68 36.14 50.60 65.06" y="0.00" font-size="26.00" fill="#333">0.9974</text></g>
<g transform="translate(94.40 1424.20) scale(1.0000 1.0350)"><text x="0.00 22.17 41.18 58.59 68.08 88.66" y="0.00" font-size="28.50" font-weight="bold" fill="#000" stroke="#fff" stroke-width="0.30">GEL-CP</text></g>
<g transform="translate(317.47 1421.30) scale(1.0000 1.0600)"><text x="0.00 14.46 28.92 36.14 50.60" y="0.00" font-size="26.00" fill="#333">29.94</text></g>
<g transform="translate(475.20 1421.30) scale(1.0000 1.0600)"><text x="0.00 14.46 21.68 36.14" y="0.00" font-size="26.00" fill="#333">0. 5</text><path fill="#333" transform="translate(21.68 0.00) scale(0.01270 -0.01270)" d="M515 0L515 1237L197 1010L197 1180L530 1409L696 1409L696 0Z"/></g>
<g transform="translate(617.77 1421.30) scale(1.0000 1.0600)"><text x="0.00 14.46 28.92 36.14 50.60" y="0.00" font-size="26.00" fill="#333">42.78</text></g>
<g transform="translate(775.00 1421.30) scale(1.0000 1.0600)"><text x="0.00 14.46 21.68 36.14" y="0.00" font-size="26.00" fill="#333">0. 5</text><path fill="#333" transform="translate(21.68 0.00) scale(0.01270 -0.01270)" d="M515 0L515 1237L197 1010L197 1180L530 1409L696 1409L696 0Z"/></g>
<g transform="translate(903.01 1421.30) scale(1.0000 1.0600)"><text x="0.00 14.46 28.92 36.14 50.60 65.06 79.52" y="0.00" font-size="26.00" fill="#333">22.9 78</text><path fill="#333" transform="translate(50.60 0.00) scale(0.01270 -0.01270)" d="M515 0L515 1237L197 1010L197 1180L530 1409L696 1409L696 0Z"/></g>
<g transform="translate(1060.24 1421.30) scale(1.0000 1.0600)"><text x="0.00 14.46 21.68 36.14 50.60 65.06" y="0.00" font-size="26.00" fill="#333">0.9977</text></g>
</svg></body></html>
